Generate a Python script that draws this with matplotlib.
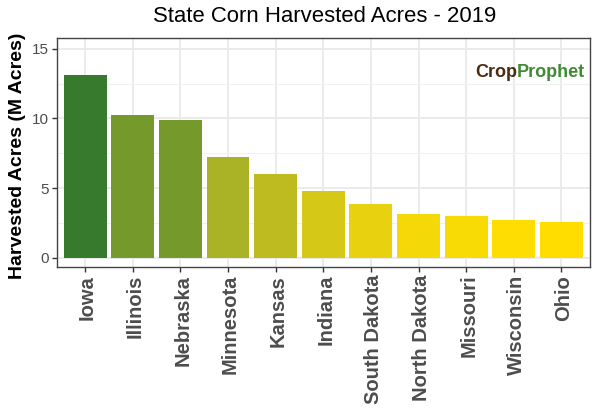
import matplotlib
matplotlib.use("Agg")
import matplotlib.pyplot as plt
from matplotlib.ticker import MultipleLocator
from matplotlib.transforms import ScaledTranslation

plt.rcParams['font.family'] = ['Liberation Sans', 'DejaVu Sans']

states = ["Iowa", "Illinois", "Nebraska", "Minnesota", "Kansas", "Indiana",
          "South Dakota", "North Dakota", "Missouri", "Wisconsin", "Ohio"]
acres = [13.1, 10.25, 9.85, 7.25, 6.0, 4.8, 3.85, 3.15, 3.0, 2.68, 2.58]
colors = ["#387A2D", "#75992A", "#75992A", "#AAB226", "#BDBB1F", "#D6C817",
          "#E8D210", "#F5D808", "#F8DA05", "#FDDD02", "#FFDD00"]
y_ticks = [0, 5, 10, 15]

fig = plt.figure(figsize=(6, 4.2), dpi=100)
ax = fig.add_axes([56.5 / 600, 1 - 267 / 420, (590 - 56.5) / 600, (267 - 38) / 420])

x = list(range(len(states)))
ax.bar(x, acres, width=0.9, color=colors, zorder=3)
ax.set_xlim(-0.6, len(states) - 1 + 0.6)
ax.set_ylim(-0.67, 15.77)

ax.set_axisbelow(True)
ax.yaxis.set_major_locator(MultipleLocator(5))
ax.yaxis.set_minor_locator(MultipleLocator(2.5))
ax.set_yticks(y_ticks)
ax.grid(True, which='major', color='#EBEBEB', linewidth=1.4)
ax.grid(True, which='minor', axis='y', color='#F0F0F0', linewidth=0.8)
ax.tick_params(axis='y', which='minor', length=0)

ax.set_xticks(x)
ax.set_xticklabels(states, rotation=90, fontsize=14.5, fontweight='bold', color='#4D4D4D')
ax.tick_params(axis='x', length=3.6, width=1, color='#333333', pad=2)
ax.tick_params(axis='y', which='major', labelsize=11, labelcolor='#4D4D4D', length=3.6, width=1, color='#333333', pad=2)
shift = ScaledTranslation(2.5 / 100, 0, fig.dpi_scale_trans)
for lab in ax.get_xticklabels():
    lab.set_transform(lab.get_transform() + shift)
for s in ax.spines.values():
    s.set_color('#444444')
    s.set_linewidth(1.0)

fig.text(18 / 600, 1 - 156 / 420, "Harvested Acres (M Acres)", fontsize=14, fontweight='bold',
         color='black', rotation=90, ha='center', va='center')
fig.text(324.5 / 600, 1 - 17 / 420, "State Corn Harvested Acres - 2019", fontsize=15.9,
         ha='center', va='center', color='black')

crop = fig.text(475 / 600, 1 - 72.5 / 420, "Crop", fontsize=13, fontweight='bold',
                color='#4A2C10', ha='left', va='center')
fig.canvas.draw()
bb = crop.get_window_extent()
fig.text(bb.x1 / 600, 1 - 72.5 / 420, "Prophet", fontsize=13, fontweight='bold',
         color='#3F8A35', ha='left', va='center')

fig.savefig("out.png", dpi=100)
